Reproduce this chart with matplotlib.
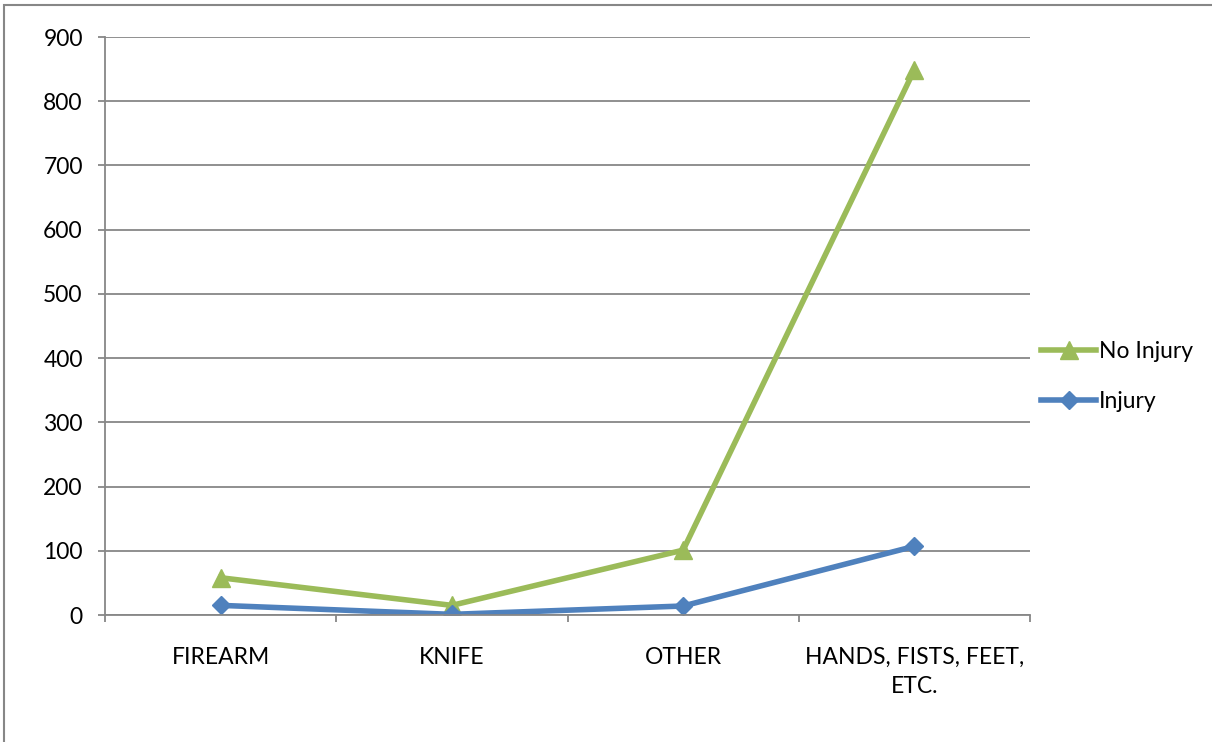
import matplotlib
matplotlib.use("Agg")
import matplotlib.pyplot as plt
from matplotlib.patches import Rectangle
from matplotlib.ticker import FixedLocator

categories = ["FIREARM", "KNIFE", "OTHER", "HANDS, FISTS, FEET,\nETC."]
no_injury = [58, 15, 101, 849]
injury = [15, 1, 14, 107]

GREEN = "#9BBB59"
BLUE = "#4F81BD"
GRID = "#878787"


def main() -> None:
    plt.rcParams["font.family"] = ["Lato", "DejaVu Sans"]
    fig = plt.figure(figsize=(12.12, 7.42), dpi=100)
    ax = fig.add_axes([105 / 1212, 1 - 615 / 742, 925 / 1212, 578 / 742])

    x = list(range(len(categories)))
    ax.plot(x, no_injury, color=GREEN, linewidth=4, marker="^", markersize=13.5,
            label="No Injury", solid_joinstyle="round")
    ax.plot(x, injury, color=BLUE, linewidth=4, marker="D", markersize=9.5,
            label="Injury", solid_joinstyle="round")

    ax.set_xlim(-0.5, len(categories) - 0.5)
    ax.set_ylim(0, 900)
    ax.set_yticks(range(0, 901, 100))
    ax.yaxis.grid(True, color=GRID, linewidth=1.3)
    ax.set_axisbelow(True)

    ax.set_xticks(x)
    ax.set_xticklabels(categories, linespacing=1.5)
    ax.xaxis.set_minor_locator(FixedLocator([i - 0.5 for i in range(len(categories) + 1)]))
    ax.tick_params(axis="x", which="major", length=0, pad=23, labelsize=16.5)
    ax.tick_params(axis="x", which="minor", length=5, width=1.3, color=GRID, direction="out")
    ax.tick_params(axis="y", length=5, width=1.3, color=GRID, pad=11, labelsize=16.5)

    for side in ("top", "right"):
        ax.spines[side].set_visible(False)
    for side in ("left", "bottom"):
        ax.spines[side].set_color(GRID)
        ax.spines[side].set_linewidth(1.3)

    ax.legend(loc="center left", bbox_to_anchor=(1.0, 0.413), frameon=False,
              fontsize=16.5, handlelength=2.4, handletextpad=0.1, labelspacing=1.25,
              borderaxespad=0.1)

    fig.patches.append(Rectangle((4 / 1212, -0.1), 1.2, 1 - 5 / 742 + 0.1,
                                 transform=fig.transFigure, fill=False,
                                 edgecolor=GRID, linewidth=1.5))

    fig.savefig("out.png", dpi=100)
    plt.close(fig)


if __name__ == "__main__":
    main()
